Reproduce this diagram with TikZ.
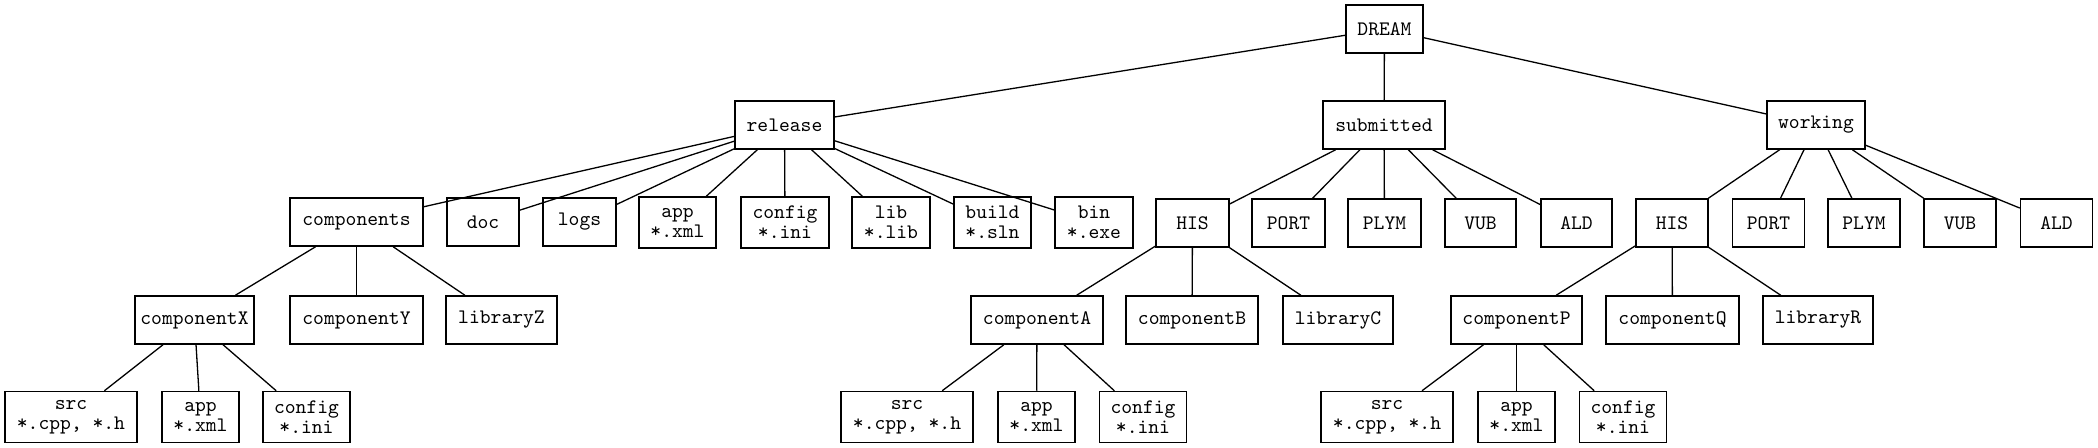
\documentclass[tikz,border=0pt]{standalone}
\begin{document}
\begin{tikzpicture}[x=0.5pt,y=-0.5pt,
  box/.style={draw, line width=0.75pt, font=\ttfamily\fontsize{10.3}{10}\selectfont, align=center, inner sep=0pt, minimum height=24pt},
  dbox/.style={box, minimum height=25.5pt},
  link/.style={line width=0.65pt}]
\useasboundingbox (0,0) rectangle (2098,448);
% level 0
\node[box, minimum width=38.5pt] (dream) at (1384.5,29) {DREAM};
% level 1
\node[box, minimum width=49.5pt] (release) at (784.5,125) {release};
\node[box, minimum width=61pt] (submitted) at (1384,125) {submitted};
\node[box, minimum width=49pt] (working) at (1816,125) {working};
% level 2 - release
\node[box, minimum width=66.5pt] (components) at (356.5,222) {components};
\node[box, minimum width=36pt] (doc) at (483,222) {doc};
\node[box, minimum width=36.5pt] (logs) at (579.5,222) {logs};
\node[dbox, minimum width=38.5pt] (rapp) at (677.5,222.5) {app\\*.xml};
\node[dbox, minimum width=44pt] (rconfig) at (785,222.5) {config\\*.ini};
\node[dbox, minimum width=39pt] (rlib) at (891,222.5) {lib\\*.lib};
\node[dbox, minimum width=38.5pt] (rbuild) at (992.5,222.5) {build\\*.sln};
\node[dbox, minimum width=39pt] (rbin) at (1094,222.5) {bin\\*.exe};
% level 2 - submitted
\node[box, minimum width=36.5pt] (shis) at (1192.5,223) {HIS};
\node[box, minimum width=36.5pt] (sport) at (1288.5,223) {PORT};
\node[box, minimum width=36.5pt] (splym) at (1384.5,223) {PLYM};
\node[box, minimum width=35.5pt] (svub) at (1480.5,223) {VUB};
\node[box, minimum width=35.5pt] (sald) at (1576.5,223) {ALD};
% level 2 - working
\node[box, minimum width=36pt] (whis) at (1672,223) {HIS};
\node[box, minimum width=36pt] (wport) at (1768.5,223) {PORT};
\node[box, minimum width=36pt] (wplym) at (1864,223) {PLYM};
\node[box, minimum width=36pt] (wvub) at (1960,223) {VUB};
\node[box, minimum width=36pt] (wald) at (2056.5,223) {ALD};
% level 3
\node[box, minimum width=59.5pt] (cx) at (194.5,320) {componentX};
\node[box, minimum width=66.5pt] (cy) at (356.5,320) {componentY};
\node[box, minimum width=55.5pt] (lz) at (501.5,320) {libraryZ};
\node[box, minimum width=66pt] (ca) at (1037,320) {componentA};
\node[box, minimum width=66pt] (cb) at (1192,320) {componentB};
\node[box, minimum width=55pt] (lc) at (1338,320) {libraryC};
\node[box, minimum width=65.5pt] (cp) at (1516.5,320) {componentP};
\node[box, minimum width=66.5pt] (cq) at (1672.5,320) {componentQ};
\node[box, minimum width=55pt] (lr) at (1818,320) {libraryR};
% level 4
\node[dbox, minimum width=66pt] (xsrc) at (71,417) {src\\*.cpp, *.h};
\node[dbox, minimum width=38.5pt] (xapp) at (200.5,417) {app\\*.xml};
\node[dbox, minimum width=43.5pt] (xconfig) at (306.5,417) {config\\*.ini};
\node[dbox, minimum width=66pt] (asrc) at (907,417) {src\\*.cpp, *.h};
\node[dbox, minimum width=38.5pt] (aapp) at (1036.5,417) {app\\*.xml};
\node[dbox, minimum width=43.5pt] (aconfig) at (1143,417) {config\\*.ini};
\node[dbox, minimum width=66pt] (psrc) at (1387,417) {src\\*.cpp, *.h};
\node[dbox, minimum width=38.5pt] (papp) at (1516.5,417) {app\\*.xml};
\node[dbox, minimum width=43.5pt] (pconfig) at (1623,417) {config\\*.ini};
% connectors
\foreach \c in {release,submitted,working} \draw[link] (dream) -- (\c);
\foreach \c in {components,doc,logs,rapp,rconfig,rlib,rbuild,rbin} \draw[link] (release) -- (\c);
\foreach \c in {shis,sport,splym,svub,sald} \draw[link] (submitted) -- (\c);
\foreach \c in {whis,wport,wplym,wvub,wald} \draw[link] (working) -- (\c);
\foreach \c in {cx,cy,lz} \draw[link] (components) -- (\c);
\foreach \c in {ca,cb,lc} \draw[link] (shis) -- (\c);
\foreach \c in {cp,cq,lr} \draw[link] (whis) -- (\c);
\foreach \c in {xsrc,xapp,xconfig} \draw[link] (cx) -- (\c);
\foreach \c in {asrc,aapp,aconfig} \draw[link] (ca) -- (\c);
\foreach \c in {psrc,papp,pconfig} \draw[link] (cp) -- (\c);
\end{tikzpicture}
\end{document}
